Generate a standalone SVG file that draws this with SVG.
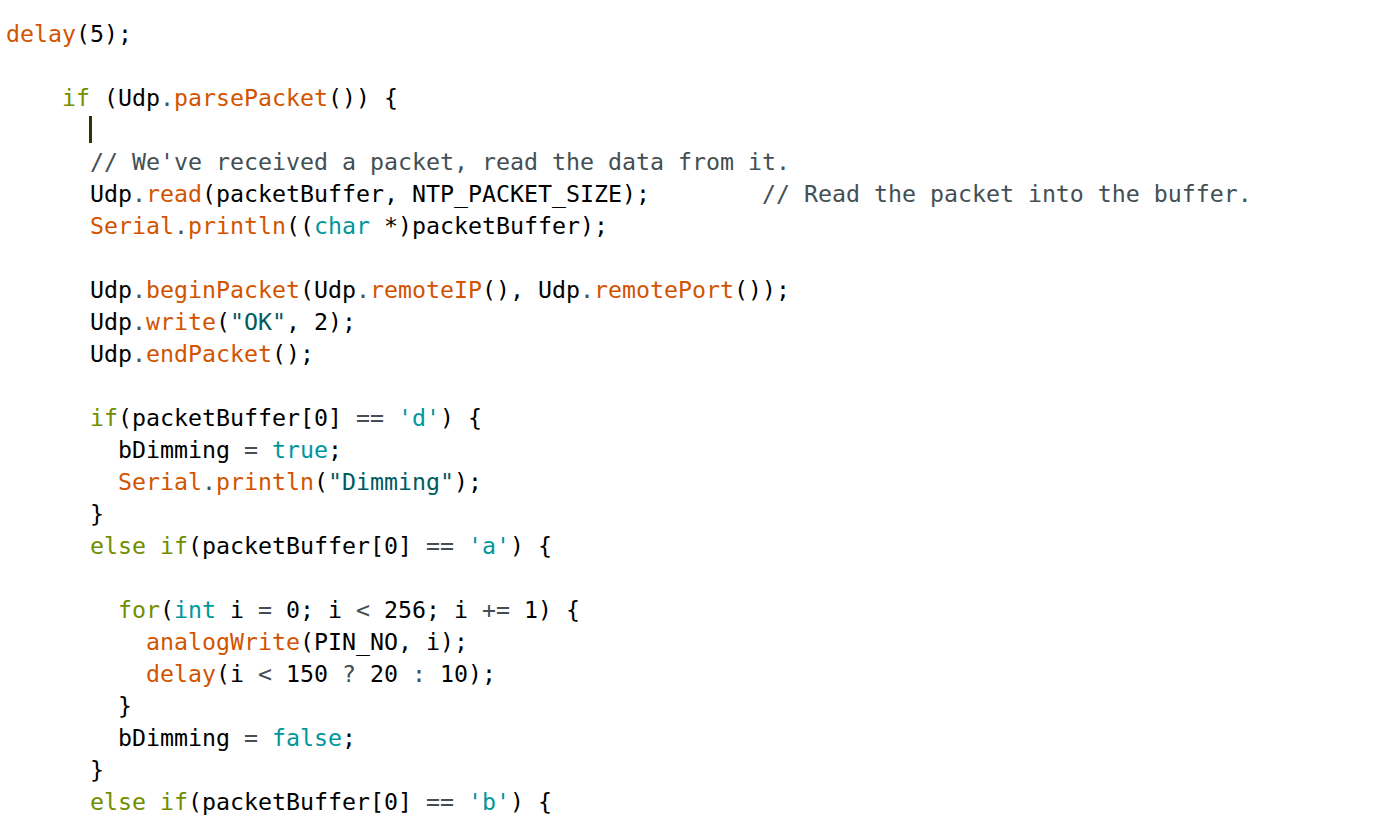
<svg xmlns="http://www.w3.org/2000/svg" width="1384" height="820" viewBox="0 0 1384 820">
<style>
text{font-family:"DejaVu Sans Mono","Liberation Mono",monospace;font-size:23.25px;fill:#000;white-space:pre}
.f{fill:#D35400}.k{fill:#728E00}.t{fill:#00979C}.s{fill:#005C5F}.c{fill:#434F54}
</style>
<rect width="1384" height="820" fill="#fff"/>
<g id="code" xml:space="preserve">
<text x="6" y="42"><tspan class="f">delay</tspan>(5);</text>
<text x="62" y="106"><tspan class="k">if</tspan> (Udp<tspan class="c">.</tspan><tspan class="f">parsePacket</tspan>()) {</text>
<text x="90" y="170" class="c">// We've received a packet, read the data from it.</text>
<text x="90" y="202">Udp<tspan class="c">.</tspan><tspan class="f">read</tspan>(packetBuffer, NTP_PACKET_SIZE);        <tspan class="c">// Read the packet into the buffer.</tspan></text>
<text x="90" y="234"><tspan class="f">Serial</tspan><tspan class="c">.</tspan><tspan class="f">println</tspan>((<tspan class="t">char</tspan> *)packetBuffer);</text>
<text x="90" y="298">Udp<tspan class="c">.</tspan><tspan class="f">beginPacket</tspan>(Udp<tspan class="c">.</tspan><tspan class="f">remoteIP</tspan>(), Udp<tspan class="c">.</tspan><tspan class="f">remotePort</tspan>());</text>
<text x="90" y="330">Udp<tspan class="c">.</tspan><tspan class="f">write</tspan>(<tspan class="s">"OK"</tspan>, 2);</text>
<text x="90" y="362">Udp<tspan class="c">.</tspan><tspan class="f">endPacket</tspan>();</text>
<text x="90" y="426"><tspan class="k">if</tspan>(packetBuffer[0] <tspan class="c">==</tspan> <tspan class="t">'d'</tspan>) {</text>
<text x="118" y="458">bDimming <tspan class="c">=</tspan> <tspan class="t">true</tspan>;</text>
<text x="118" y="490"><tspan class="f">Serial</tspan><tspan class="c">.</tspan><tspan class="f">println</tspan>(<tspan class="s">"Dimming"</tspan>);</text>
<text x="90" y="522">}</text>
<text x="90" y="554"><tspan class="k">else</tspan> <tspan class="k">if</tspan>(packetBuffer[0] <tspan class="c">==</tspan> <tspan class="t">'a'</tspan>) {</text>
<text x="118" y="618"><tspan class="k">for</tspan>(<tspan class="t">int</tspan> i <tspan class="c">=</tspan> 0; i <tspan class="c">&lt;</tspan> 256; i <tspan class="c">+=</tspan> 1) {</text>
<text x="146" y="650"><tspan class="f">analogWrite</tspan>(PIN_NO, i);</text>
<text x="146" y="682"><tspan class="f">delay</tspan>(i <tspan class="c">&lt;</tspan> 150 <tspan class="c">?</tspan> 20 <tspan class="c">:</tspan> 10);</text>
<text x="118" y="714">}</text>
<text x="118" y="746">bDimming <tspan class="c">=</tspan> <tspan class="t">false</tspan>;</text>
<text x="90" y="778">}</text>
<text x="90" y="810"><tspan class="k">else</tspan> <tspan class="k">if</tspan>(packetBuffer[0] <tspan class="c">==</tspan> <tspan class="t">'b'</tspan>) {</text>
</g>
<rect id="cursor" x="89" y="116" width="3" height="27" fill="#333300"/>
</svg>
